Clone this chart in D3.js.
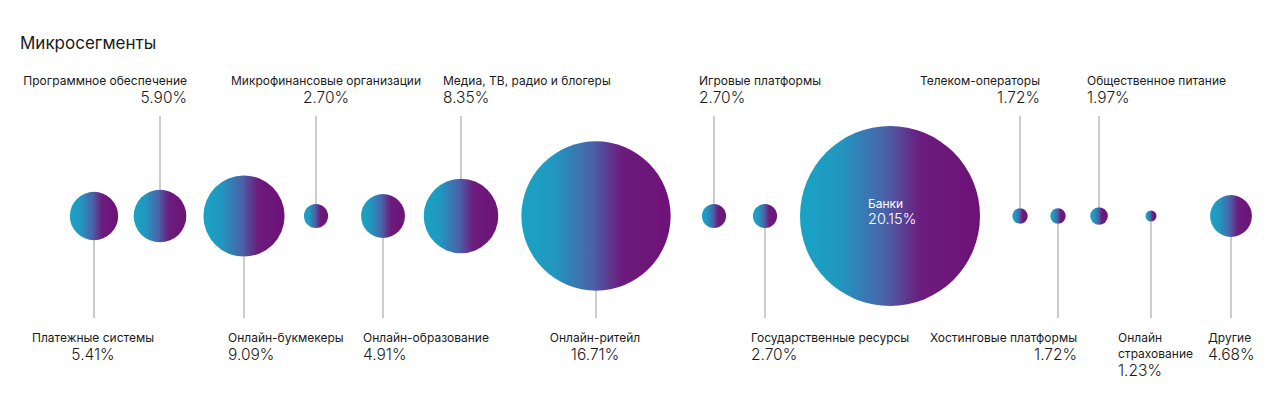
<!DOCTYPE html>
<html>
<head>
<meta charset="utf-8">
<script src="https://cdn.jsdelivr.net/npm/d3@7"></script>
<style>
  body { margin: 0; background: #fff; }
  svg { display: block; font-family: Inter, "Noto Sans", sans-serif; }
</style>
</head>
<body>
<svg id="chart" width="1280" height="398"></svg>
<script>
// segments, left to right
const names = [
  'Платежные системы', 'Программное обеспечение', 'Онлайн-букмекеры',
  'Микрофинансовые организации', 'Онлайн-образование', 'Медиа, ТВ, радио и блогеры',
  'Онлайн-ритейл', 'Игровые платформы', 'Государственные ресурсы', 'Банки',
  'Телеком-операторы', 'Хостинговые платформы', 'Общественное питание',
  'Онлайн страхование', 'Другие'
];
const shares = [5.41, 5.90, 9.09, 2.70, 4.91, 8.35, 16.71, 2.70, 2.70, 20.15, 1.72, 1.72, 1.97, 1.23, 4.68];
// where the label sits: top / bottom / inside
const side = ['bottom', 'top', 'bottom', 'top', 'bottom', 'top', 'bottom', 'top', 'bottom', 'inside', 'top', 'bottom', 'top', 'bottom', 'bottom'];
// how the label lines up with its leader line
const align = ['middle', 'end', 'start', 'middle', 'start', 'start', 'middle', 'start', 'start', 'start', 'end', 'end', 'start', 'start', 'start'];

const svg = d3.select('#chart');

// circles are laid out along the row by their index
const slot = [94, 160, 244, 316, 383, 461, 596, 714, 765, 890, 1020, 1058, 1099, 1151, 1231];
const x = d3.scaleLinear().domain([0, 1280]).range([0, 1280]);
const r = d3.scaleLinear().domain([0, 20.15]).range([0, 90]);
const cy = 216;

const grad = svg.append('defs').append('linearGradient')
  .attr('id', 'bubble')
  .attr('x1', 0).attr('x2', 1).attr('y1', 0).attr('y2', 0);
[[0, '#1aa3c3'], [0.22, '#2197c0'], [0.47, '#4a63a9'], [0.67, '#6c1c7d'], [1, '#6e1277']]
  .forEach(([o, c]) => grad.append('stop').attr('offset', o).attr('stop-color', c));

svg.append('text')
  .attr('x', 20).attr('y', 49)
  .attr('font-size', 17).attr('fill', '#1a1a1a')
  .text('Микросегменты');

const data = names.map((n, i) => ({ name: n, value: shares[i], side: side[i], align: align[i], cx: x(slot[i]), r: r(shares[i]) }));
const fmt = v => v.toFixed(2) + '%';

// leader lines
svg.append('g')
  .selectAll('line')
  .data(data.filter(d => d.side !== 'inside'))
  .join('line')
  .attr('x1', d => d.cx).attr('x2', d => d.cx)
  .attr('y1', d => d.side === 'top' ? 116 : 318)
  .attr('y2', d => d.side === 'top' ? cy - d.r : cy + d.r)
  .attr('stroke', '#999').attr('stroke-width', 1);

svg.append('g')
  .selectAll('circle')
  .data(data)
  .join('circle')
  .attr('cx', d => d.cx).attr('cy', cy)
  .attr('r', d => d.r)
  .attr('fill', 'url(#bubble)');

// label offset from the line, per alignment
const shift = { start: -17, middle: 10, end: 27 };

const labels = svg.append('g')
  .selectAll('g')
  .data(data)
  .join('g')
  .attr('transform', d => {
    if (d.side === 'inside') return `translate(${d.cx - 22},${cy - 8})`;
    let dx = shift[d.align];
    if (d.align === 'middle' && d.side === 'bottom') dx = -1;
    if (d.name === 'Телеком-операторы') dx = 20;
    if (d.name === 'Хостинговые платформы') dx = 19;
    if (d.name === 'Онлайн страхование') dx = -33;
    if (d.name === 'Другие') dx = -23;
    if (d.name === 'Онлайн-образование') dx = -20;
    if (d.name === 'Медиа, ТВ, радио и блогеры') dx = -18;
    if (d.name === 'Игровые платформы') dx = -15;
    if (d.name === 'Общественное питание') dx = -12;
    if (d.name === 'Государственные ресурсы') dx = -14;
    if (d.name === 'Онлайн-букмекеры') dx = -16;
    return `translate(${d.cx + dx},${d.side === 'top' ? 85 : 342})`;
  })
  .attr('text-anchor', d => d.align)
  .attr('fill', d => d.side === 'inside' ? '#fff' : '#1a1a1a');

labels.each(function (d) {
  const g = d3.select(this);
  const lines = d.name === 'Онлайн страхование' ? ['Онлайн', 'страхование'] : [d.name];
  lines.forEach((t, k) => g.append('text')
    .attr('y', k * 16)
    .attr('font-size', 12)
    .text(t));
  g.append('text')
    .attr('y', (lines.length - 1) * 16 + (d.side === 'inside' ? 16 : 18))
    .attr('font-size', d.side === 'inside' ? 14.5 : 15.5)
    .attr('font-weight', 300)
    .text(fmt(d.value));
});
</script>
</body>
</html>
